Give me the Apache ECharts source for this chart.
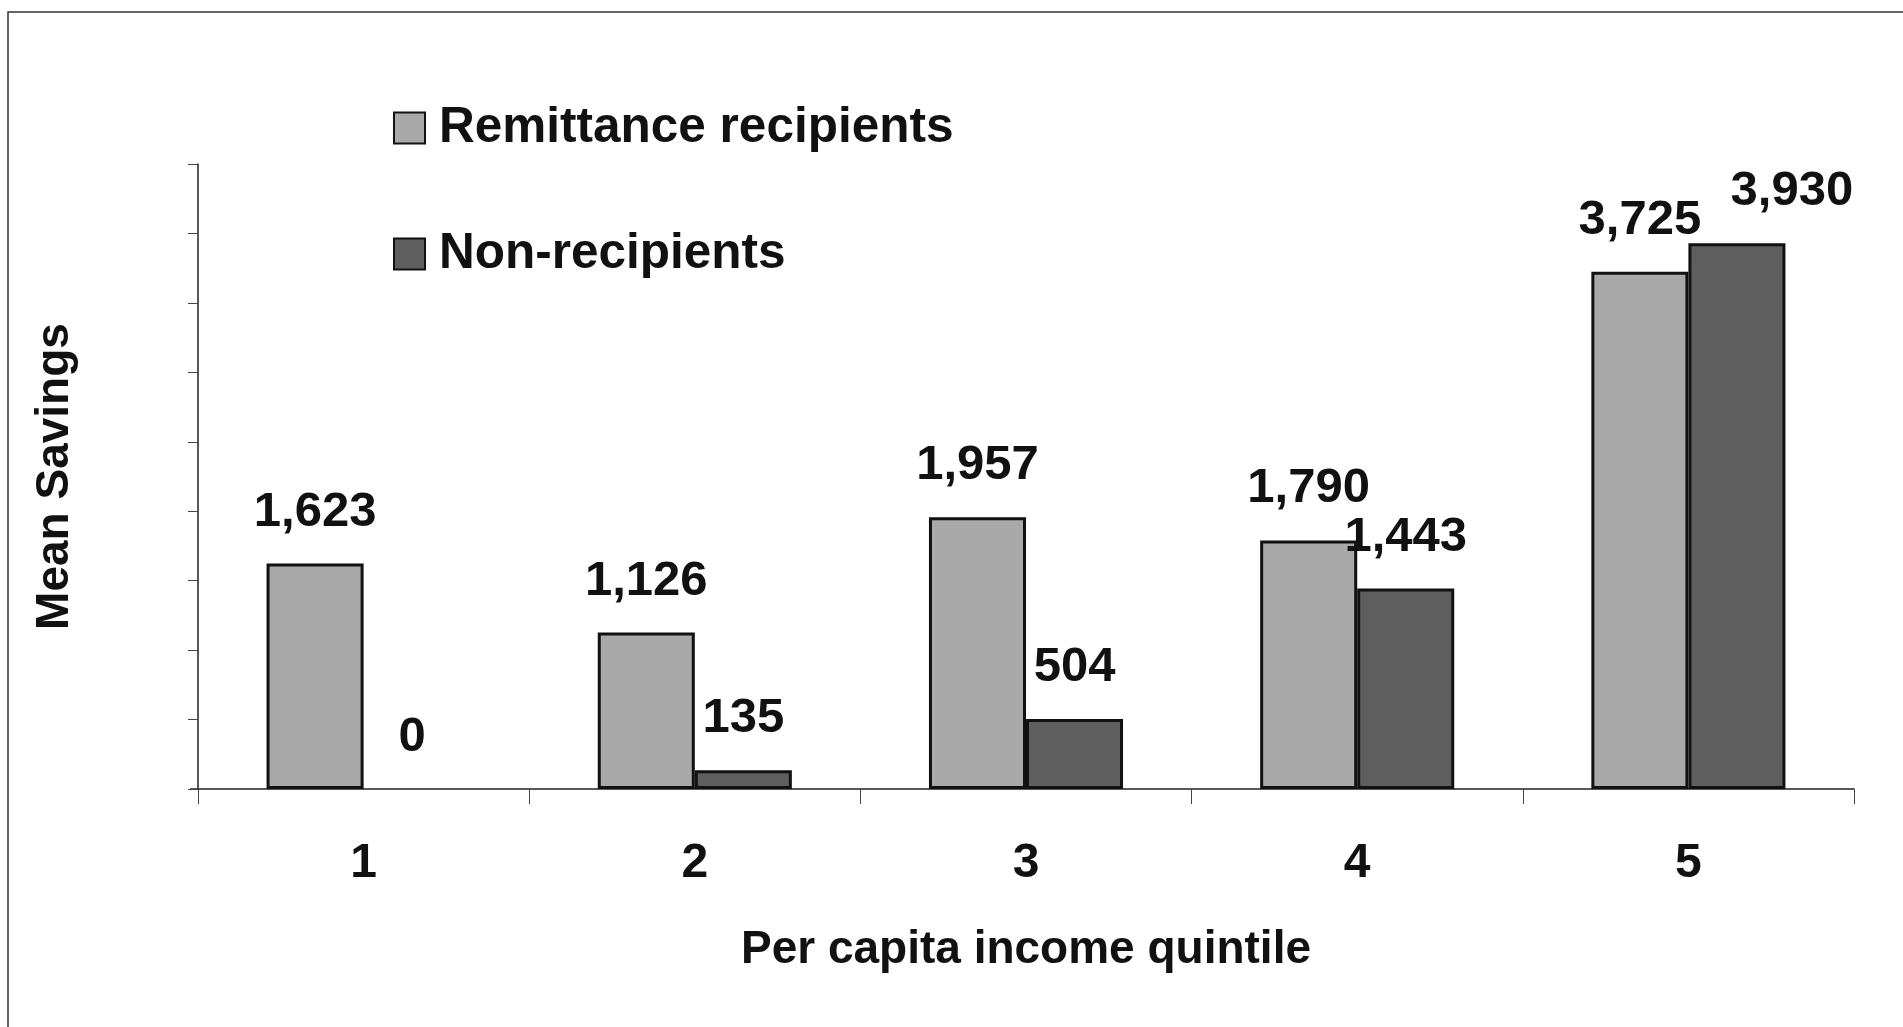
<!DOCTYPE html>
<html lang="en">
<head>
    <meta charset="UTF-8">
    <title>Mean Savings by income quintile</title>
    <script src="https://cdn.jsdelivr.net/npm/echarts@6/dist/echarts.min.js"></script>
</head>
<body style="margin: 0; background: #fff">
<div id="chart" style="width: 1903px; height: 1027px"></div>
<script>
    let quintiles = ['1', '2', '3', '4', '5'];
    let recipients = [1623, 1126, 1957, 1790, 3725];
    let nonRecipients = [0, 135, 504, 1443, 3930];
    let seriesNames = ['Remittance recipients', 'Non-recipients'];

    let font = '"Liberation Sans", Arial, sans-serif';

    function barLabel() {
        return {
            show: true,
            position: 'top',
            distance: 27,
            fontFamily: font,
            fontWeight: 'bold',
            fontSize: 49,
            color: '#111',
            formatter: function (p) { return p.value.toLocaleString('en-US'); }
        };
    }

    // zero bar gets no outline, last dark bar has its label pushed right
    function toItems(arr) {
        return arr.map(function (v, i) {
            let item = {value: v};
            if (v === 0) {
                item.itemStyle = {borderWidth: 0};
            }
            if (arr === nonRecipients && i === arr.length - 1) {
                item.label = {offset: [55, 0]};
            }
            return item;
        });
    }

    let myChart = echarts.init(document.getElementById('chart'));
    let option = {
        animation: false,
        backgroundColor: '#fff',
        graphic: [{
            type: 'rect',
            shape: {x: 8, y: 12, width: 2000, height: 1100},
            style: {fill: 'none', stroke: '#333', lineWidth: 1.5},
            silent: true
        }, {
            // x axis runs a little past the y axis on the left
            type: 'line',
            shape: {x1: 190, y1: 789, x2: 198, y2: 789},
            style: {stroke: '#222', lineWidth: 1.5},
            silent: true
        }],
        legend: {
            orient: 'vertical',
            left: 393,
            top: 103,
            padding: 0,
            itemWidth: 31,
            itemHeight: 31,
            itemGap: 76,
            icon: 'rect',
            textStyle: {
                fontFamily: font,
                fontWeight: 'bold',
                fontSize: 49.5,
                color: '#111',
                padding: [0, 0, 0, 9]
            },
            data: seriesNames
        },
        grid: {left: 198, right: 49, top: 164, bottom: 238, containLabel: false},
        xAxis: {
            type: 'category',
            data: quintiles,
            name: 'Per capita income quintile',
            nameLocation: 'middle',
            nameGap: 138,
            nameTextStyle: {fontFamily: font, fontWeight: 'bold', fontSize: 46, color: '#111'},
            axisLine: {lineStyle: {color: '#222', width: 1.5}},
            axisTick: {show: true, length: 15, lineStyle: {color: '#444'}},
            axisLabel: {margin: 51, fontFamily: font, fontWeight: 'bold', fontSize: 48, color: '#111'}
        },
        yAxis: {
            type: 'value',
            min: 0,
            max: 4500,
            interval: 500,
            name: 'Mean Savings',
            nameLocation: 'middle',
            nameRotate: 90,
            nameGap: 120,
            nameTextStyle: {fontFamily: font, fontWeight: 'bold', fontSize: 46, color: '#111'},
            axisLine: {show: true, lineStyle: {color: '#222', width: 1.5}},
            axisTick: {show: true, length: 10, lineStyle: {color: '#444'}},
            axisLabel: {show: false},
            splitLine: {show: false}
        },
        series: [{
            name: seriesNames[0],
            type: 'bar',
            data: toItems(recipients),
            barWidth: '29.3%',
            barGap: '0%',
            itemStyle: {color: '#a9a9a9', borderColor: '#111', borderWidth: 3},
            label: barLabel()
        }, {
            name: seriesNames[1],
            type: 'bar',
            data: toItems(nonRecipients),
            barWidth: '29.3%',
            itemStyle: {color: '#5e5e5e', borderColor: '#111', borderWidth: 3},
            label: barLabel()
        }]
    };
    myChart.setOption(option);
</script>
</body>
</html>
